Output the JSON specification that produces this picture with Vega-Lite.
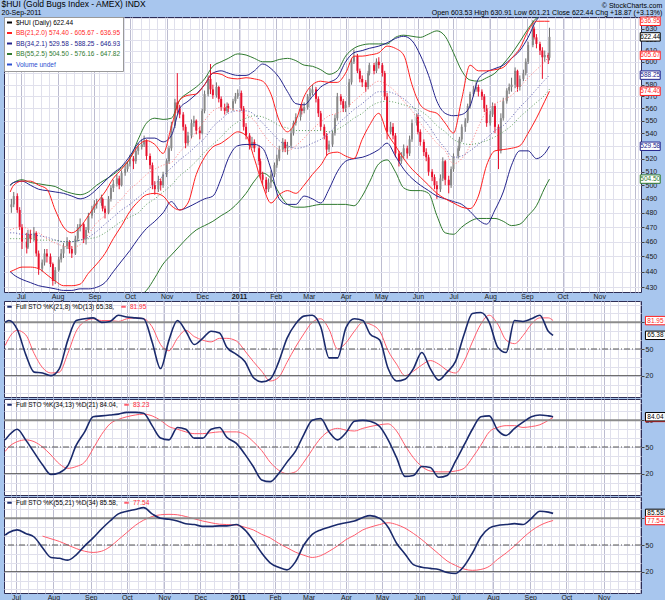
{
"$schema": "https://vega.github.io/schema/vega-lite/v6.json",
"background": "#a8c6ee",
"padding": {"left": 1, "top": 0, "right": 0, "bottom": 0},
"config": {
  "font": "Liberation Sans",
  "view": {"fill": "#ffffff", "stroke": "#2d2d55", "strokeWidth": 1},
  "title": {"fontSize": 8.5, "fontWeight": "normal", "color": "#000000", "subtitleFontSize": 7, "subtitleColor": "#000000", "font": "Liberation Sans", "subtitleFont": "Liberation Sans"}
},
"title": {"text": "$HUI (Gold Bugs Index - AMEX) INDX", "subtitle": "20-Sep-2011", "anchor": "start", "offset": -14, "dx": -1, "subtitlePadding": 0},
"datasets": {
"c": [
{"t":"2010-06-23","o":484,"h":490,"l":480,"c":486},
{"t":"2010-06-25","o":486,"h":495,"l":484,"c":492},
{"t":"2010-06-28","o":492,"h":494,"l":480,"c":482},
{"t":"2010-06-30","o":482,"h":484,"l":468,"c":470},
{"t":"2010-07-02","o":470,"h":472,"l":455,"c":460},
{"t":"2010-07-06","o":460,"h":466,"l":452,"c":456},
{"t":"2010-07-07","o":456,"h":468,"l":455,"c":465},
{"t":"2010-07-09","o":465,"h":468,"l":459,"c":462},
{"t":"2010-07-12","o":462,"h":470,"l":460,"c":466},
{"t":"2010-07-14","o":466,"h":467,"l":450,"c":452},
{"t":"2010-07-16","o":452,"h":454,"l":438,"c":442},
{"t":"2010-07-19","o":442,"h":448,"l":440,"c":446},
{"t":"2010-07-21","o":446,"h":455,"l":444,"c":452},
{"t":"2010-07-23","o":452,"h":455,"l":446,"c":450},
{"t":"2010-07-26","o":450,"h":452,"l":443,"c":445},
{"t":"2010-07-28","o":445,"h":446,"l":431,"c":434},
{"t":"2010-07-30","o":434,"h":443,"l":432,"c":441},
{"t":"2010-08-02","o":441,"h":450,"l":440,"c":448},
{"t":"2010-08-04","o":448,"h":455,"l":446,"c":452},
{"t":"2010-08-06","o":452,"h":459,"l":449,"c":457},
{"t":"2010-08-09","o":457,"h":463,"l":455,"c":460},
{"t":"2010-08-11","o":460,"h":461,"l":452,"c":455},
{"t":"2010-08-13","o":455,"h":457,"l":449,"c":452},
{"t":"2010-08-16","o":452,"h":464,"l":451,"c":462},
{"t":"2010-08-18","o":462,"h":472,"l":460,"c":470},
{"t":"2010-08-20","o":470,"h":476,"l":467,"c":472},
{"t":"2010-08-23","o":472,"h":473,"l":459,"c":462},
{"t":"2010-08-25","o":462,"h":470,"l":458,"c":468},
{"t":"2010-08-27","o":468,"h":480,"l":466,"c":478},
{"t":"2010-08-30","o":478,"h":485,"l":476,"c":482},
{"t":"2010-09-01","o":482,"h":489,"l":480,"c":486},
{"t":"2010-09-03","o":486,"h":490,"l":483,"c":487},
{"t":"2010-09-07","o":487,"h":493,"l":485,"c":490},
{"t":"2010-09-08","o":490,"h":491,"l":481,"c":483},
{"t":"2010-09-10","o":483,"h":485,"l":476,"c":480},
{"t":"2010-09-13","o":480,"h":492,"l":479,"c":490},
{"t":"2010-09-15","o":490,"h":500,"l":488,"c":498},
{"t":"2010-09-17","o":498,"h":504,"l":495,"c":501},
{"t":"2010-09-20","o":501,"h":508,"l":499,"c":505},
{"t":"2010-09-22","o":505,"h":507,"l":497,"c":500},
{"t":"2010-09-24","o":500,"h":511,"l":499,"c":509},
{"t":"2010-09-27","o":509,"h":515,"l":507,"c":512},
{"t":"2010-09-29","o":512,"h":518,"l":510,"c":516},
{"t":"2010-10-01","o":516,"h":523,"l":514,"c":520},
{"t":"2010-10-04","o":520,"h":522,"l":512,"c":518},
{"t":"2010-10-06","o":518,"h":529,"l":516,"c":526},
{"t":"2010-10-08","o":526,"h":532,"l":523,"c":529},
{"t":"2010-10-11","o":529,"h":535,"l":527,"c":531},
{"t":"2010-10-13","o":531,"h":538,"l":529,"c":534},
{"t":"2010-10-15","o":534,"h":535,"l":519,"c":522},
{"t":"2010-10-18","o":522,"h":524,"l":512,"c":515},
{"t":"2010-10-20","o":515,"h":517,"l":497,"c":500},
{"t":"2010-10-22","o":500,"h":503,"l":493,"c":497},
{"t":"2010-10-25","o":497,"h":507,"l":495,"c":503},
{"t":"2010-10-27","o":503,"h":505,"l":496,"c":500},
{"t":"2010-10-29","o":500,"h":510,"l":498,"c":508},
{"t":"2010-11-01","o":508,"h":520,"l":506,"c":518},
{"t":"2010-11-03","o":518,"h":530,"l":516,"c":528},
{"t":"2010-11-05","o":528,"h":549,"l":526,"c":546},
{"t":"2010-11-08","o":546,"h":568,"l":544,"c":565},
{"t":"2010-11-10","o":565,"h":590,"l":556,"c":560},
{"t":"2010-11-12","o":560,"h":563,"l":552,"c":555},
{"t":"2010-11-15","o":555,"h":557,"l":542,"c":545},
{"t":"2010-11-17","o":545,"h":547,"l":528,"c":532},
{"t":"2010-11-19","o":532,"h":541,"l":530,"c":538},
{"t":"2010-11-22","o":538,"h":551,"l":536,"c":548},
{"t":"2010-11-24","o":548,"h":554,"l":545,"c":550},
{"t":"2010-11-26","o":550,"h":551,"l":539,"c":542},
{"t":"2010-11-29","o":542,"h":545,"l":535,"c":540},
{"t":"2010-12-01","o":540,"h":560,"l":539,"c":558},
{"t":"2010-12-03","o":558,"h":575,"l":556,"c":572},
{"t":"2010-12-06","o":572,"h":588,"l":570,"c":585},
{"t":"2010-12-08","o":585,"h":598,"l":572,"c":576},
{"t":"2010-12-10","o":576,"h":580,"l":568,"c":571},
{"t":"2010-12-13","o":571,"h":582,"l":569,"c":578},
{"t":"2010-12-15","o":578,"h":579,"l":565,"c":568},
{"t":"2010-12-17","o":568,"h":570,"l":558,"c":561},
{"t":"2010-12-20","o":561,"h":564,"l":555,"c":558},
{"t":"2010-12-22","o":558,"h":565,"l":556,"c":562},
{"t":"2010-12-23","o":562,"h":564,"l":557,"c":560},
{"t":"2010-12-27","o":560,"h":568,"l":558,"c":566},
{"t":"2010-12-29","o":566,"h":573,"l":564,"c":570},
{"t":"2010-12-31","o":570,"h":576,"l":568,"c":573},
{"t":"2011-01-03","o":573,"h":575,"l":558,"c":560},
{"t":"2011-01-05","o":560,"h":562,"l":542,"c":545},
{"t":"2011-01-07","o":545,"h":548,"l":535,"c":538},
{"t":"2011-01-10","o":538,"h":540,"l":527,"c":530},
{"t":"2011-01-12","o":530,"h":537,"l":528,"c":533},
{"t":"2011-01-14","o":533,"h":535,"l":525,"c":528},
{"t":"2011-01-18","o":528,"h":530,"l":515,"c":518},
{"t":"2011-01-19","o":518,"h":520,"l":505,"c":508},
{"t":"2011-01-21","o":508,"h":510,"l":500,"c":504},
{"t":"2011-01-24","o":504,"h":506,"l":494,"c":497},
{"t":"2011-01-26","o":497,"h":505,"l":495,"c":502},
{"t":"2011-01-28","o":502,"h":511,"l":498,"c":508},
{"t":"2011-01-31","o":508,"h":517,"l":506,"c":515},
{"t":"2011-02-02","o":515,"h":523,"l":513,"c":520},
{"t":"2011-02-04","o":520,"h":530,"l":518,"c":527},
{"t":"2011-02-07","o":527,"h":536,"l":525,"c":533},
{"t":"2011-02-09","o":533,"h":535,"l":525,"c":528},
{"t":"2011-02-11","o":528,"h":533,"l":523,"c":530},
{"t":"2011-02-14","o":530,"h":543,"l":528,"c":540},
{"t":"2011-02-16","o":540,"h":550,"l":538,"c":548},
{"t":"2011-02-18","o":548,"h":556,"l":546,"c":553},
{"t":"2011-02-22","o":553,"h":563,"l":550,"c":560},
{"t":"2011-02-23","o":560,"h":564,"l":555,"c":558},
{"t":"2011-02-25","o":558,"h":565,"l":556,"c":561},
{"t":"2011-02-28","o":561,"h":572,"l":559,"c":570},
{"t":"2011-03-02","o":570,"h":577,"l":568,"c":573},
{"t":"2011-03-04","o":573,"h":580,"l":571,"c":576},
{"t":"2011-03-07","o":576,"h":578,"l":565,"c":568},
{"t":"2011-03-09","o":568,"h":570,"l":553,"c":556},
{"t":"2011-03-11","o":556,"h":558,"l":542,"c":545},
{"t":"2011-03-14","o":545,"h":547,"l":535,"c":538},
{"t":"2011-03-16","o":538,"h":540,"l":522,"c":527},
{"t":"2011-03-18","o":527,"h":534,"l":525,"c":531},
{"t":"2011-03-21","o":531,"h":542,"l":529,"c":540},
{"t":"2011-03-23","o":540,"h":555,"l":538,"c":552},
{"t":"2011-03-25","o":552,"h":573,"l":550,"c":570},
{"t":"2011-03-28","o":570,"h":572,"l":563,"c":566},
{"t":"2011-03-30","o":566,"h":568,"l":557,"c":560},
{"t":"2011-04-01","o":560,"h":566,"l":557,"c":563},
{"t":"2011-04-04","o":563,"h":585,"l":561,"c":582},
{"t":"2011-04-06","o":582,"h":603,"l":580,"c":600},
{"t":"2011-04-08","o":600,"h":611,"l":598,"c":605},
{"t":"2011-04-11","o":605,"h":607,"l":590,"c":592},
{"t":"2011-04-13","o":592,"h":594,"l":582,"c":585},
{"t":"2011-04-15","o":585,"h":588,"l":578,"c":582},
{"t":"2011-04-18","o":582,"h":584,"l":574,"c":578},
{"t":"2011-04-20","o":578,"h":592,"l":576,"c":590},
{"t":"2011-04-21","o":590,"h":599,"l":588,"c":597},
{"t":"2011-04-25","o":597,"h":599,"l":589,"c":592},
{"t":"2011-04-27","o":592,"h":603,"l":590,"c":600},
{"t":"2011-04-29","o":600,"h":604,"l":594,"c":597},
{"t":"2011-05-02","o":597,"h":599,"l":587,"c":590},
{"t":"2011-05-04","o":590,"h":592,"l":567,"c":570},
{"t":"2011-05-06","o":570,"h":573,"l":535,"c":541},
{"t":"2011-05-09","o":541,"h":549,"l":539,"c":545},
{"t":"2011-05-11","o":545,"h":548,"l":535,"c":538},
{"t":"2011-05-13","o":538,"h":540,"l":521,"c":524},
{"t":"2011-05-16","o":524,"h":526,"l":514,"c":518},
{"t":"2011-05-18","o":518,"h":525,"l":516,"c":522},
{"t":"2011-05-20","o":522,"h":531,"l":520,"c":528},
{"t":"2011-05-23","o":528,"h":530,"l":520,"c":524},
{"t":"2011-05-25","o":524,"h":538,"l":522,"c":535},
{"t":"2011-05-27","o":535,"h":551,"l":533,"c":548},
{"t":"2011-05-31","o":548,"h":556,"l":546,"c":553},
{"t":"2011-06-01","o":553,"h":555,"l":539,"c":541},
{"t":"2011-06-03","o":541,"h":543,"l":530,"c":533},
{"t":"2011-06-06","o":533,"h":535,"l":522,"c":525},
{"t":"2011-06-08","o":525,"h":528,"l":518,"c":521},
{"t":"2011-06-10","o":521,"h":523,"l":507,"c":510},
{"t":"2011-06-13","o":510,"h":512,"l":503,"c":506},
{"t":"2011-06-15","o":506,"h":508,"l":497,"c":500},
{"t":"2011-06-17","o":500,"h":503,"l":490,"c":497},
{"t":"2011-06-20","o":497,"h":508,"l":495,"c":505},
{"t":"2011-06-22","o":505,"h":521,"l":503,"c":518},
{"t":"2011-06-24","o":518,"h":519,"l":500,"c":504},
{"t":"2011-06-27","o":504,"h":507,"l":494,"c":500},
{"t":"2011-06-29","o":500,"h":514,"l":498,"c":512},
{"t":"2011-07-01","o":512,"h":524,"l":510,"c":522},
{"t":"2011-07-05","o":522,"h":530,"l":520,"c":528},
{"t":"2011-07-06","o":528,"h":537,"l":526,"c":535},
{"t":"2011-07-08","o":535,"h":547,"l":533,"c":545},
{"t":"2011-07-11","o":545,"h":552,"l":541,"c":550},
{"t":"2011-07-13","o":550,"h":564,"l":548,"c":562},
{"t":"2011-07-15","o":562,"h":574,"l":560,"c":572},
{"t":"2011-07-18","o":572,"h":579,"l":570,"c":576},
{"t":"2011-07-20","o":576,"h":582,"l":574,"c":578},
{"t":"2011-07-22","o":578,"h":580,"l":570,"c":574},
{"t":"2011-07-25","o":574,"h":576,"l":567,"c":570},
{"t":"2011-07-27","o":570,"h":572,"l":557,"c":560},
{"t":"2011-07-29","o":560,"h":563,"l":545,"c":548},
{"t":"2011-08-01","o":548,"h":558,"l":546,"c":555},
{"t":"2011-08-03","o":555,"h":565,"l":553,"c":562},
{"t":"2011-08-05","o":562,"h":564,"l":540,"c":545},
{"t":"2011-08-08","o":545,"h":547,"l":512,"c":526},
{"t":"2011-08-10","o":526,"h":556,"l":524,"c":552},
{"t":"2011-08-12","o":552,"h":569,"l":550,"c":566},
{"t":"2011-08-15","o":566,"h":577,"l":564,"c":575},
{"t":"2011-08-17","o":575,"h":581,"l":572,"c":578},
{"t":"2011-08-19","o":578,"h":586,"l":574,"c":580},
{"t":"2011-08-22","o":580,"h":595,"l":577,"c":592},
{"t":"2011-08-24","o":592,"h":593,"l":574,"c":578},
{"t":"2011-08-26","o":578,"h":588,"l":575,"c":585},
{"t":"2011-08-29","o":585,"h":593,"l":583,"c":590},
{"t":"2011-08-31","o":590,"h":603,"l":588,"c":600},
{"t":"2011-09-02","o":600,"h":618,"l":598,"c":615},
{"t":"2011-09-06","o":615,"h":638,"l":613,"c":630},
{"t":"2011-09-07","o":630,"h":632,"l":620,"c":622},
{"t":"2011-09-09","o":622,"h":625,"l":612,"c":616},
{"t":"2011-09-12","o":616,"h":618,"l":606,"c":610},
{"t":"2011-09-14","o":610,"h":613,"l":585,"c":604},
{"t":"2011-09-16","o":604,"h":610,"l":600,"c":606},
{"t":"2011-09-19","o":606,"h":608,"l":598,"c":603.57},
{"t":"2011-09-20","o":603.53,"h":630.91,"l":601.21,"c":622.44}
],
"w": [
{"d":"2010-06-22","ru":495,"rm":468,"rl":440,"bu":500,"bm":466,"bl":440,"gu":500,"gm":462,"gl":420,"k1":80,"d1":54,"k2":58,"d2":45,"k3":61},
{"d":"2010-06-25","ru":500,"rm":469,"rl":441,"bu":502,"bm":466,"bl":438,"gu":502,"gm":462,"gl":420,"k1":82,"d1":62,"k2":63,"d2":50,"k3":64},
{"d":"2010-07-02","ru":503,"rm":470,"rl":443,"bu":503,"bm":465,"bl":435,"gu":504,"gm":462,"gl":420,"k1":72,"d1":71,"k2":70,"d2":56,"k3":67},
{"d":"2010-07-09","ru":503,"rm":468,"rl":443,"bu":500,"bm":465,"bl":433,"gu":502,"gm":462,"gl":419,"k1":44,"d1":66,"k2":58,"d2":58,"k3":63},
{"d":"2010-07-16","ru":500,"rm":466,"rl":442,"bu":497,"bm":464,"bl":431,"gu":501,"gm":461,"gl":418,"k1":24,"d1":45,"k2":44,"d2":56,"k3":59},
{"d":"2010-07-23","ru":497,"rm":462,"rl":438,"bu":496,"bm":463,"bl":430,"gu":500,"gm":461,"gl":417,"k1":23,"d1":29,"k2":30,"d2":50,"k3":47,"d3":60},
{"d":"2010-07-30","ru":482,"rm":459,"rl":434,"bu":495,"bm":461,"bl":429,"gu":499,"gm":461,"gl":416,"k1":20,"d1":23,"k2":19,"d2":41,"k3":36,"d3":57},
{"d":"2010-08-06","ru":470,"rm":457,"rl":431,"bu":494,"bm":460,"bl":428,"gu":496,"gm":460,"gl":416,"k1":28,"d1":24,"k2":21,"d2":31,"k3":35,"d3":54},
{"d":"2010-08-13","ru":466,"rm":456,"rl":431,"bu":492,"bm":460,"bl":428,"gu":494,"gm":460,"gl":415,"k1":60,"d1":45,"k2":29,"d2":26,"k3":33,"d3":50},
{"d":"2010-08-20","ru":470,"rm":458,"rl":432,"bu":490,"bm":461,"bl":429,"gu":493,"gm":461,"gl":414,"k1":82,"d1":70,"k2":52,"d2":28,"k3":39,"d3":46},
{"d":"2010-08-27","ru":478,"rm":465,"rl":439,"bu":492,"bm":463,"bl":429,"gu":495,"gm":462,"gl":414,"k1":84,"d1":81,"k2":67,"d2":33,"k3":49,"d3":43},
{"d":"2010-09-03","ru":487,"rm":473,"rl":445,"bu":497,"bm":467,"bl":430,"gu":500,"gm":463,"gl":414,"k1":85,"d1":84,"k2":84,"d2":48,"k3":58,"d3":41.6},
{"d":"2010-09-10","ru":495,"rm":478,"rl":452,"bu":503,"bm":472,"bl":433,"gu":504,"gm":466,"gl":415,"k1":80,"d1":82,"k2":85,"d2":64,"k3":68,"d3":43},
{"d":"2010-09-17","ru":505,"rm":484,"rl":462,"bu":509,"bm":477,"bl":440,"gu":508,"gm":470,"gl":416,"k1":81,"d1":82,"k2":86,"d2":76,"k3":77,"d3":48},
{"d":"2010-09-24","ru":512,"rm":490,"rl":471,"bu":514,"bm":482,"bl":447,"gu":513,"gm":474,"gl":418,"k1":88,"d1":81,"k2":87,"d2":81,"k3":85,"d3":56},
{"d":"2010-10-01","ru":520,"rm":497,"rl":481,"bu":522,"bm":486,"bl":454,"gu":520,"gm":477,"gl":420,"k1":86,"d1":84,"k2":89,"d2":84,"k3":88,"d3":64},
{"d":"2010-10-08","ru":530,"rm":502,"rl":488,"bu":532,"bm":491,"bl":462,"gu":535,"gm":480,"gl":424,"k1":85,"d1":85,"k2":89,"d2":86,"k3":90,"d3":72},
{"d":"2010-10-15","ru":534,"rm":508,"rl":493,"bu":536,"bm":496,"bl":469,"gu":548,"gm":486,"gl":428,"k1":84,"d1":84,"k2":88,"d2":87,"k3":92,"d3":78},
{"d":"2010-10-22","ru":531,"rm":512,"rl":494,"bu":536,"bm":501,"bl":474,"gu":552,"gm":490,"gl":436,"k1":58,"d1":75,"k2":74,"d2":85,"k3":85,"d3":82},
{"d":"2010-10-29","ru":524,"rm":515,"rl":492,"bu":533,"bm":507,"bl":480,"gu":551,"gm":495,"gl":445,"k1":28,"d1":55,"k2":60,"d2":80,"k3":80,"d3":84},
{"d":"2010-11-05","ru":545,"rm":517,"rl":485,"bu":538,"bm":513,"bl":488,"gu":552,"gm":500,"gl":451,"k1":60,"d1":48,"k2":58,"d2":73,"k3":79,"d3":84.5},
{"d":"2010-11-12","ru":567,"rm":525,"rl":482,"bu":560,"bm":519,"bl":482,"gu":567,"gm":507,"gl":457,"k1":82,"d1":62,"k2":72,"d2":70,"k3":77,"d3":84},
{"d":"2010-11-19","ru":571,"rm":532,"rl":487,"bu":566,"bm":524,"bl":484,"gu":573,"gm":512,"gl":463,"k1":70,"d1":71,"k2":70,"d2":67,"k3":74,"d3":82},
{"d":"2010-11-26","ru":572,"rm":541,"rl":508,"bu":572,"bm":530,"bl":487,"gu":578,"gm":518,"gl":468,"k1":55,"d1":64,"k2":60,"d2":65,"k3":73,"d3":79.5},
{"d":"2010-12-03","ru":580,"rm":550,"rl":521,"bu":580,"bm":536,"bl":490,"gu":585,"gm":525,"gl":471,"k1":62,"d1":60,"k2":60,"d2":65,"k3":71,"d3":77},
{"d":"2010-12-10","ru":590,"rm":558,"rl":529,"bu":590,"bm":545,"bl":492,"gu":596,"gm":531,"gl":474,"k1":70,"d1":58,"k2":70,"d2":66,"k3":71,"d3":75},
{"d":"2010-12-17","ru":589,"rm":561,"rl":532,"bu":592,"bm":551,"bl":505,"gu":600,"gm":537,"gl":478,"k1":68,"d1":62,"k2":72,"d2":67,"k3":71.5,"d3":73.4},
{"d":"2010-12-23","ru":586,"rm":560,"rl":536,"bu":590,"bm":556,"bl":520,"gu":603,"gm":543,"gl":481,"k1":52,"d1":62,"k2":61,"d2":67,"k3":71.5,"d3":73},
{"d":"2010-12-31","ru":585,"rm":558,"rl":541,"bu":588,"bm":558,"bl":530,"gu":607,"gm":549,"gl":487,"k1":44,"d1":59,"k2":54,"d2":67,"k3":73,"d3":72.5},
{"d":"2011-01-07","ru":586,"rm":555,"rl":538,"bu":588,"bm":558,"bl":531,"gu":606,"gm":552,"gl":494,"k1":36,"d1":48,"k2":42,"d2":64,"k3":67,"d3":70},
{"d":"2011-01-14","ru":585,"rm":550,"rl":520,"bu":592,"bm":555,"bl":531,"gu":603,"gm":554,"gl":503,"k1":18,"d1":36,"k2":28,"d2":56,"k3":55,"d3":67},
{"d":"2011-01-21","ru":583,"rm":540,"rl":500,"bu":598,"bm":548,"bl":528,"gu":600,"gm":553,"gl":509,"k1":13,"d1":25,"k2":13,"d2":46,"k3":41,"d3":62},
{"d":"2011-01-28","ru":572,"rm":532,"rl":487,"bu":594,"bm":541,"bl":512,"gu":600,"gm":550,"gl":505,"k1":16,"d1":14,"k2":11,"d2":33,"k3":30,"d3":58},
{"d":"2011-02-04","ru":550,"rm":527,"rl":493,"bu":586,"bm":534,"bl":490,"gu":602,"gm":546,"gl":494,"k1":35,"d1":18,"k2":20,"d2":24,"k3":25,"d3":52},
{"d":"2011-02-11","ru":541,"rm":526,"rl":496,"bu":574,"bm":530,"bl":486,"gu":603,"gm":544,"gl":486,"k1":62,"d1":35,"k2":33,"d2":20,"k3":22,"d3":47},
{"d":"2011-02-18","ru":550,"rm":530,"rl":494,"bu":564,"bm":528,"bl":486,"gu":601,"gm":542,"gl":484,"k1":78,"d1":52,"k2":45,"d2":22,"k3":31,"d3":42},
{"d":"2011-02-25","ru":570,"rm":536,"rl":500,"bu":563,"bm":529,"bl":492,"gu":597,"gm":542,"gl":484,"k1":87,"d1":67,"k2":64,"d2":33,"k3":50,"d3":38.5},
{"d":"2011-03-04","ru":580,"rm":543,"rl":508,"bu":570,"bm":532,"bl":490,"gu":596,"gm":542,"gl":485,"k1":88,"d1":80,"k2":80,"d2":47,"k3":62,"d3":36},
{"d":"2011-03-11","ru":583,"rm":549,"rl":515,"bu":578,"bm":535,"bl":487,"gu":593,"gm":542,"gl":486,"k1":75,"d1":84,"k2":82,"d2":60,"k3":67,"d3":38},
{"d":"2011-03-18","ru":582,"rm":554,"rl":524,"bu":582,"bm":540,"bl":497,"gu":589,"gm":541,"gl":486,"k1":40,"d1":72,"k2":67,"d2":68,"k3":70,"d3":43},
{"d":"2011-03-25","ru":582,"rm":556,"rl":525,"bu":586,"bm":547,"bl":510,"gu":592,"gm":543,"gl":486,"k1":40,"d1":50,"k2":58,"d2":71,"k3":73,"d3":49},
{"d":"2011-04-01","ru":590,"rm":560,"rl":522,"bu":600,"bm":553,"bl":518,"gu":605,"gm":547,"gl":486,"k1":74,"d1":57,"k2":66,"d2":69,"k3":75,"d3":56},
{"d":"2011-04-08","ru":605,"rm":566,"rl":520,"bu":608,"bm":559,"bl":520,"gu":612,"gm":552,"gl":485,"k1":84,"d1":70,"k2":79,"d2":68,"k3":77,"d3":61},
{"d":"2011-04-15","ru":605,"rm":572,"rl":535,"bu":610,"bm":564,"bl":521,"gu":615,"gm":556,"gl":492,"k1":82,"d1":80,"k2":80,"d2":71,"k3":81,"d3":67},
{"d":"2011-04-21","ru":606,"rm":578,"rl":546,"bu":612,"bm":569,"bl":523,"gu":616,"gm":561,"gl":502,"k1":67,"d1":78,"k2":79,"d2":73,"k3":83,"d3":70},
{"d":"2011-04-29","ru":608,"rm":583,"rl":556,"bu":614,"bm":574,"bl":527,"gu":616,"gm":565,"gl":516,"k1":60,"d1":70,"k2":73,"d2":75,"k3":80,"d3":73},
{"d":"2011-05-06","ru":614,"rm":580,"rl":540,"bu":617,"bm":574,"bl":532,"gu":616,"gm":566,"gl":519,"k1":28,"d1":48,"k2":58,"d2":76,"k3":70,"d3":75},
{"d":"2011-05-13","ru":612,"rm":574,"rl":530,"bu":621,"bm":572,"bl":522,"gu":622,"gm":565,"gl":510,"k1":14,"d1":33,"k2":38,"d2":68,"k3":52,"d3":73},
{"d":"2011-05-20","ru":606,"rm":566,"rl":520,"bu":623,"bm":568,"bl":512,"gu":624,"gm":563,"gl":498,"k1":16,"d1":20,"k2":17,"d2":52,"k3":40,"d3":69},
{"d":"2011-05-27","ru":580,"rm":558,"rl":512,"bu":619,"bm":562,"bl":505,"gu":623,"gm":561,"gl":496,"k1":28,"d1":25,"k2":18,"d2":38,"k3":28,"d3":63},
{"d":"2011-06-03","ru":563,"rm":548,"rl":506,"bu":606,"bm":554,"bl":500,"gu":622,"gm":558,"gl":496,"k1":46,"d1":32,"k2":28,"d2":28,"k3":25,"d3":56},
{"d":"2011-06-10","ru":558,"rm":540,"rl":500,"bu":588,"bm":546,"bl":496,"gu":625,"gm":553,"gl":494,"k1":28,"d1":37,"k2":27,"d2":23,"k3":23.7,"d3":48},
{"d":"2011-06-17","ru":556,"rm":532,"rl":494,"bu":566,"bm":536,"bl":492,"gu":628,"gm":546,"gl":478,"k1":15,"d1":33,"k2":16,"d2":22,"k3":22.5,"d3":40},
{"d":"2011-06-24","ru":548,"rm":526,"rl":490,"bu":556,"bm":528,"bl":490,"gu":623,"gm":541,"gl":466,"k1":24,"d1":26,"k2":18,"d2":22,"k3":19,"d3":32},
{"d":"2011-07-01","ru":540,"rm":516,"rl":487,"bu":554,"bm":521,"bl":488,"gu":608,"gm":535,"gl":465,"k1":36,"d1":23,"k2":34,"d2":23,"k3":18,"d3":27},
{"d":"2011-07-08","ru":568,"rm":520,"rl":484,"bu":555,"bm":522,"bl":486,"gu":592,"gm":532,"gl":470,"k1":66,"d1":36,"k2":52,"d2":26,"k3":26,"d3":23},
{"d":"2011-07-15","ru":597,"rm":530,"rl":483,"bu":562,"bm":526,"bl":481,"gu":584,"gm":531,"gl":474,"k1":90,"d1":58,"k2":70,"d2":38,"k3":41,"d3":21.5},
{"d":"2011-07-22","ru":592,"rm":545,"rl":492,"bu":585,"bm":531,"bl":475,"gu":583,"gm":532,"gl":476,"k1":91,"d1":78,"k2":84,"d2":52,"k3":59,"d3":22.5},
{"d":"2011-07-29","ru":592,"rm":558,"rl":515,"bu":591,"bm":536,"bl":472,"gu":586,"gm":534,"gl":476,"k1":80,"d1":88,"k2":85,"d2":67,"k3":69,"d3":26},
{"d":"2011-08-05","ru":593,"rm":564,"rl":526,"bu":594,"bm":542,"bl":482,"gu":590,"gm":537,"gl":476,"k1":52,"d1":78,"k2":69,"d2":72,"k3":72,"d3":34},
{"d":"2011-08-12","ru":595,"rm":567,"rl":527,"bu":597,"bm":546,"bl":495,"gu":598,"gm":541,"gl":474,"k1":46,"d1":60,"k2":63,"d2":74,"k3":73,"d3":41},
{"d":"2011-08-19","ru":603,"rm":571,"rl":528,"bu":603,"bm":553,"bl":515,"gu":607,"gm":546,"gl":471,"k1":82,"d1":56,"k2":71,"d2":74,"k3":74,"d3":49},
{"d":"2011-08-26","ru":612,"rm":578,"rl":530,"bu":610,"bm":561,"bl":526,"gu":618,"gm":553,"gl":472,"k1":81,"d1":65,"k2":78,"d2":72,"k3":73,"d3":58},
{"d":"2011-09-02","ru":628,"rm":586,"rl":540,"bu":622,"bm":568,"bl":526,"gu":630,"gm":559,"gl":478,"k1":84,"d1":78,"k2":84,"d2":73,"k3":80,"d3":66},
{"d":"2011-09-09","ru":637,"rm":593,"rl":552,"bu":638,"bm":576,"bl":520,"gu":640,"gm":565,"gl":485,"k1":88,"d1":85,"k2":86,"d2":75,"k3":88,"d3":72},
{"d":"2011-09-16","ru":637,"rm":600,"rl":566,"bu":645,"bm":584,"bl":524,"gu":645,"gm":571,"gl":498,"k1":70,"d1":85,"k2":85,"d2":80,"k3":87,"d3":76},
{"d":"2011-09-20","ru":636.95,"rm":605.67,"rl":574.4,"bu":646.93,"bm":588.25,"bl":529.58,"gu":647.82,"gm":576.16,"gl":504.5,"k1":65.38,"d1":81.95,"k2":84.04,"d2":83.23,"k3":85.58,"d3":77.54}
]
},
"spacing": 0,
"resolve": {"scale": {"color": "independent", "y": "independent"}, "legend": {"color": "independent"}},
"vconcat": [
{
  "width": 637, "height": 275,
  "title": {"text": ["© StockCharts.com", "Open 603.53  High 630.91  Low 601.21  Close 622.44  Chg +18.87 (+3.13%)"], "anchor": "end", "fontSize": 7, "lineHeight": 7, "offset": -2},
  "data": {"name": "w"},
  "resolve": {"axis": {"x": "independent", "y": "independent"}},
  "layer": [
    {"data": {"values": [{"s": "$HUI (Daily) 622.44"}, {"s": "BB(21,2.0) 574.40 - 605.67 - 636.95"}, {"s": "BB(34,2.1) 529.58 - 588.25 - 646.93"}, {"s": "BB(55,2.5) 504.50 - 576.16 - 647.82"}, {"s": "Volume undef"}]},
     "mark": {"type": "point", "opacity": 0},
     "encoding": {"color": {"field": "s", "type": "nominal",
       "scale": {"domain": ["$HUI (Daily) 622.44", "BB(21,2.0) 574.40 - 605.67 - 636.95", "BB(34,2.1) 529.58 - 588.25 - 646.93", "BB(55,2.5) 504.50 - 576.16 - 647.82", "Volume undef"], "range": ["#000000", "#ff1f1f", "#23238c", "#2f7a2f", "#2a4fd0"]},
       "legend": {"orient": "top-left", "offset": 0, "title": null, "fillColor": "#ffffff", "strokeColor": "#9a9a9a", "padding": 2, "rowPadding": 1.5, "labelFontSize": 6.5, "labelOffset": 3, "labelLimit": 400, "symbolType": "stroke", "symbolStrokeWidth": 2, "symbolSize": 25, "symbolOpacity": 1,
         "labelColor": {"expr": "indexof(datum.label, 'BB(21') == 0 ? '#ff1f1f' : indexof(datum.label, 'BB(34') == 0 ? '#23238c' : indexof(datum.label, 'BB(55') == 0 ? '#2f7a2f' : indexof(datum.label, 'Volume') == 0 ? '#2a4fd0' : '#000000'"}}}}},
    {"mark": {"type": "line", "color": "#2f7a2f", "strokeWidth": 1, "interpolate": "monotone", "clip": true},
     "encoding": {
       "x": {"field": "d", "type": "temporal", "scale": {"domain": [{"year": 2010, "month": 6, "date": 21}, {"year": 2011, "month": 12, "date": 2}]},
             "axis": {"orient": "top", "tickCount": {"interval": "week", "step": 1}, "labels": false, "ticks": false, "domain": false, "grid": true, "gridColor": "#e0e0ec", "title": null}},
       "y": {"field": "gl", "type": "quantitative", "scale": {"type": "log", "domain": [427, 641], "nice": false},
             "axis": {"orient": "left", "values": [430,440,450,460,470,480,490,500,510,520,530,540,550,560,570,580,590,600,610,620,630,640], "labels": false, "ticks": false, "domain": false, "grid": true, "gridColor": "#e0e0ec", "title": null}}}},
    {"data": {"name": "c"},
     "mark": {"type": "rule", "strokeWidth": 1, "clip": true},
     "encoding": {
       "x": {"field": "t", "type": "temporal", "scale": {"domain": [{"year": 2010, "month": 6, "date": 21}, {"year": 2011, "month": 12, "date": 2}]},
             "axis": {"orient": "bottom", "tickCount": {"interval": "month", "step": 1}, "labelExpr": "month(datum.value) == 0 ? timeFormat(datum.value, '%Y') : (month(datum.value) == 11 && year(datum.value) == 2011 ? '' : timeFormat(datum.value, '%b'))", "labelFontWeight": {"condition": {"test": "month(datum.value) == 0", "value": "bold"}, "value": "normal"}, "labelFontSize": 7, "labelColor": "#1a1a1a", "labelPadding": 0, "labelFlush": false, "labelOverlap": false, "ticks": false, "domain": false, "grid": true, "gridColor": "#bcbcd0", "title": null}},
       "y": {"field": "l", "type": "quantitative", "scale": {"type": "log", "domain": [427, 641], "nice": false},
             "axis": {"orient": "right", "zindex": 0, "values": [430,440,450,460,470,480,490,500,510,520,530,540,550,560,570,580,590,600,610,620,630,640], "format": "d", "labelFontSize": 7, "labelColor": "#1a1a1a", "tickSize": 3, "tickColor": "#444444", "labelPadding": 1, "labelOverlap": false, "domain": false, "grid": false, "title": null}},
       "y2": {"field": "h"},
       "color": {"condition": {"test": "datum.c < datum.o", "value": "#e8112d"}, "value": "#6e6e6e"}}},
    {"data": {"name": "c"},
     "mark": {"type": "bar", "size": 2, "clip": true},
     "encoding": {
       "x": {"field": "t", "type": "temporal", "scale": {"domain": [{"year": 2010, "month": 6, "date": 21}, {"year": 2011, "month": 12, "date": 2}]}, "axis": null},
       "y": {"field": "o", "type": "quantitative", "scale": {"type": "log", "domain": [427, 641], "nice": false}, "axis": null},
       "y2": {"field": "c"},
       "color": {"condition": {"test": "datum.c < datum.o", "value": "#e8112d"}, "value": "#8a8a8a"}}},
    {"mark": {"type": "line", "color": "#5e9e5e", "strokeWidth": 1, "strokeDash": [1, 2], "interpolate": "monotone", "clip": true},
     "encoding": {"x": {"field": "d", "type": "temporal", "scale": {"domain": [{"year": 2010, "month": 6, "date": 21}, {"year": 2011, "month": 12, "date": 2}]}, "axis": null},
       "y": {"field": "gm", "type": "quantitative", "scale": {"type": "log", "domain": [427, 641], "nice": false}, "axis": null}}},
    {"mark": {"type": "line", "color": "#2f7a2f", "strokeWidth": 1, "interpolate": "monotone", "clip": true},
     "encoding": {"x": {"field": "d", "type": "temporal", "scale": {"domain": [{"year": 2010, "month": 6, "date": 21}, {"year": 2011, "month": 12, "date": 2}]}, "axis": null},
       "y": {"field": "gu", "type": "quantitative", "scale": {"type": "log", "domain": [427, 641], "nice": false}, "axis": null}}},
    {"mark": {"type": "line", "color": "#5a5ab0", "strokeWidth": 1, "strokeDash": [1, 2], "interpolate": "monotone", "clip": true},
     "encoding": {"x": {"field": "d", "type": "temporal", "scale": {"domain": [{"year": 2010, "month": 6, "date": 21}, {"year": 2011, "month": 12, "date": 2}]}, "axis": null},
       "y": {"field": "bm", "type": "quantitative", "scale": {"type": "log", "domain": [427, 641], "nice": false}, "axis": null}}},
    {"mark": {"type": "line", "color": "#23238c", "strokeWidth": 1, "interpolate": "monotone", "clip": true},
     "encoding": {"x": {"field": "d", "type": "temporal", "scale": {"domain": [{"year": 2010, "month": 6, "date": 21}, {"year": 2011, "month": 12, "date": 2}]}, "axis": null},
       "y": {"field": "bu", "type": "quantitative", "scale": {"type": "log", "domain": [427, 641], "nice": false}, "axis": null}}},
    {"mark": {"type": "line", "color": "#23238c", "strokeWidth": 1, "interpolate": "monotone", "clip": true},
     "encoding": {"x": {"field": "d", "type": "temporal", "scale": {"domain": [{"year": 2010, "month": 6, "date": 21}, {"year": 2011, "month": 12, "date": 2}]}, "axis": null},
       "y": {"field": "bl", "type": "quantitative", "scale": {"type": "log", "domain": [427, 641], "nice": false}, "axis": null}}},
    {"mark": {"type": "line", "color": "#ff7a7a", "strokeWidth": 1, "strokeDash": [1, 2], "interpolate": "monotone", "clip": true},
     "encoding": {"x": {"field": "d", "type": "temporal", "scale": {"domain": [{"year": 2010, "month": 6, "date": 21}, {"year": 2011, "month": 12, "date": 2}]}, "axis": null},
       "y": {"field": "rm", "type": "quantitative", "scale": {"type": "log", "domain": [427, 641], "nice": false}, "axis": null}}},
    {"mark": {"type": "line", "color": "#ff1f1f", "strokeWidth": 1, "interpolate": "monotone", "clip": true},
     "encoding": {"x": {"field": "d", "type": "temporal", "scale": {"domain": [{"year": 2010, "month": 6, "date": 21}, {"year": 2011, "month": 12, "date": 2}]}, "axis": null},
       "y": {"field": "ru", "type": "quantitative", "scale": {"type": "log", "domain": [427, 641], "nice": false}, "axis": null}}},
    {"mark": {"type": "line", "color": "#ff1f1f", "strokeWidth": 1, "interpolate": "monotone", "clip": true},
     "encoding": {"x": {"field": "d", "type": "temporal", "scale": {"domain": [{"year": 2010, "month": 6, "date": 21}, {"year": 2011, "month": 12, "date": 2}]}, "axis": null},
       "y": {"field": "rl", "type": "quantitative", "scale": {"type": "log", "domain": [427, 641], "nice": false}, "axis": null}}},
    {"data": {"values": [{"v": 636.95, "s": "r"}, {"v": 622.44, "s": "k"}, {"v": 605.67, "s": "r"}, {"v": 588.25, "s": "b"}, {"v": 574.40, "s": "r"}, {"v": 529.58, "s": "b"}, {"v": 504.50, "s": "g"}]},
     "mark": {"type": "point", "shape": "M-1,-0.42L1,-0.42L1,0.42L-1,0.42Z", "size": 400, "filled": true, "fill": "#ffffff", "strokeWidth": 1, "opacity": 1},
     "encoding": {"x": {"datum": {"year": 2011, "month": 12, "date": 14}, "type": "temporal", "scale": {"domain": [{"year": 2010, "month": 6, "date": 21}, {"year": 2011, "month": 12, "date": 2}]}, "axis": null},
       "y": {"field": "v", "type": "quantitative", "scale": {"type": "log", "domain": [427, 641], "nice": false}, "axis": null},
       "stroke": {"condition": [{"test": "datum.s == 'r'", "value": "#ff1f1f"}, {"test": "datum.s == 'b'", "value": "#23238c"}, {"test": "datum.s == 'g'", "value": "#2f7a2f"}], "value": "#000000"}}},
    {"data": {"values": [{"v": 636.95, "s": "r"}, {"v": 622.44, "s": "k"}, {"v": 605.67, "s": "r"}, {"v": 588.25, "s": "b"}, {"v": 574.40, "s": "r"}, {"v": 529.58, "s": "b"}, {"v": 504.50, "s": "g"}]},
     "mark": {"type": "text", "fontSize": 6.5, "align": "center", "baseline": "middle"},
     "encoding": {"x": {"datum": {"year": 2011, "month": 12, "date": 14}, "type": "temporal", "scale": {"domain": [{"year": 2010, "month": 6, "date": 21}, {"year": 2011, "month": 12, "date": 2}]}, "axis": null},
       "y": {"field": "v", "type": "quantitative", "scale": {"type": "log", "domain": [427, 641], "nice": false}, "axis": null},
       "text": {"field": "v", "type": "quantitative", "format": ".2f"},
       "color": {"condition": [{"test": "datum.s == 'r'", "value": "#ff1f1f"}, {"test": "datum.s == 'b'", "value": "#23238c"}, {"test": "datum.s == 'g'", "value": "#2f7a2f"}], "value": "#000000"}}}
  ]
},
{
  "width": 637, "height": 96,
  "data": {"name": "w"},
  "resolve": {"axis": {"x": "independent", "y": "independent"}},
  "layer": [
    {"data": {"values": [{"s": "Full STO %K(21,8) %D(13) 65.38,"}, {"s": "81.95"}]},
     "mark": {"type": "point", "opacity": 0},
     "encoding": {"color": {"field": "s", "type": "nominal", "scale": {"domain": ["Full STO %K(21,8) %D(13) 65.38,", "81.95"], "range": ["#1a2a6c", "#ff5c6c"]},
       "legend": {"orient": "top-left", "direction": "horizontal", "offset": 1, "title": null, "padding": 1, "columnPadding": 2, "labelFontSize": 6.5, "labelOffset": 3, "labelLimit": 300, "symbolType": "stroke", "symbolStrokeWidth": 2, "symbolSize": 20, "symbolOpacity": 1, "labelColor": {"expr": "datum.index == 0 ? '#000000' : '#ff2a3a'"}}}}},
    {"mark": {"type": "line", "color": "#ff5c6c", "strokeWidth": 1, "interpolate": "monotone", "clip": true},
     "encoding": {
       "x": {"field": "d", "type": "temporal", "scale": {"domain": [{"year": 2010, "month": 6, "date": 21}, {"year": 2011, "month": 12, "date": 2}]},
             "axis": {"orient": "top", "tickCount": {"interval": "week", "step": 1}, "labels": false, "ticks": false, "domain": false, "grid": true, "gridColor": "#e0e0ec", "title": null}},
       "y": {"field": "d1", "type": "quantitative", "scale": {"domain": [-4, 104], "nice": false, "zero": false},
             "axis": {"orient": "left", "values": [0,10,20,30,40,50,60,70,80,90,100], "labels": false, "ticks": false, "domain": false, "grid": true, "gridColor": "#e0e0ec", "title": null}}}},
    {"data": {"values": [{}]}, "mark": {"type": "rule", "color": "#8c8c8c", "strokeWidth": 2},
     "encoding": {"y": {"datum": 80, "type": "quantitative", "scale": {"domain": [-4, 104], "nice": false, "zero": false}, "axis": null}}},
    {"data": {"values": [{}]}, "mark": {"type": "rule", "color": "#555555", "strokeWidth": 1},
     "encoding": {"y": {"datum": 20, "type": "quantitative", "scale": {"domain": [-4, 104], "nice": false, "zero": false}, "axis": null}}},
    {"data": {"values": [{}]}, "mark": {"type": "rule", "color": "#555555", "strokeWidth": 1, "strokeDash": [6, 2, 1, 2]},
     "encoding": {"y": {"datum": 50, "type": "quantitative", "scale": {"domain": [-4, 104], "nice": false, "zero": false}, "axis": null}}},
    {"mark": {"type": "line", "color": "#1a2a6c", "strokeWidth": 1.6, "interpolate": "monotone", "clip": true},
     "encoding": {
       "x": {"field": "d", "type": "temporal", "scale": {"domain": [{"year": 2010, "month": 6, "date": 21}, {"year": 2011, "month": 12, "date": 2}]},
             "axis": {"orient": "bottom", "tickCount": {"interval": "month", "step": 1}, "labels": false, "ticks": false, "domain": false, "grid": true, "gridColor": "#bcbcd0", "title": null}},
       "y": {"field": "k1", "type": "quantitative", "scale": {"domain": [-4, 104], "nice": false, "zero": false},
             "axis": {"orient": "right", "zindex": 0, "values": [20, 50, 80], "labelFontSize": 7, "labelColor": "#1a1a1a", "tickSize": 3, "tickColor": "#444444", "labelPadding": 1, "domain": false, "grid": false, "title": null}}}},
    {"data": {"values": [{"v": 65.38, "s": "k"}, {"v": 81.95, "s": "r"}]},
     "mark": {"type": "point", "shape": "M-1,-0.42L1,-0.42L1,0.42L-1,0.42Z", "size": 400, "filled": true, "fill": "#ffffff", "strokeWidth": 1, "opacity": 1},
     "encoding": {"x": {"datum": {"year": 2011, "month": 12, "date": 14}, "type": "temporal", "scale": {"domain": [{"year": 2010, "month": 6, "date": 21}, {"year": 2011, "month": 12, "date": 2}]}, "axis": null},
       "y": {"field": "v", "type": "quantitative", "scale": {"domain": [-4, 104], "nice": false, "zero": false}, "axis": null},
       "stroke": {"condition": {"test": "datum.s == 'r'", "value": "#ff1f1f"}, "value": "#000000"}}},
    {"data": {"values": [{"v": 65.38, "s": "k"}, {"v": 81.95, "s": "r"}]},
     "mark": {"type": "text", "fontSize": 6.5, "align": "center", "baseline": "middle"},
     "encoding": {"x": {"datum": {"year": 2011, "month": 12, "date": 14}, "type": "temporal", "scale": {"domain": [{"year": 2010, "month": 6, "date": 21}, {"year": 2011, "month": 12, "date": 2}]}, "axis": null},
       "y": {"field": "v", "type": "quantitative", "scale": {"domain": [-4, 104], "nice": false, "zero": false}, "axis": null},
       "text": {"field": "v", "type": "quantitative", "format": ".2f"},
       "color": {"condition": {"test": "datum.s == 'r'", "value": "#ff1f1f"}, "value": "#000000"}}}
  ]
},
{
  "width": 637, "height": 96,
  "data": {"name": "w"},
  "resolve": {"axis": {"x": "independent", "y": "independent"}},
  "layer": [
    {"data": {"values": [{"s": "Full STO %K(34,13) %D(21) 84.04,"}, {"s": "83.23"}]},
     "mark": {"type": "point", "opacity": 0},
     "encoding": {"color": {"field": "s", "type": "nominal", "scale": {"domain": ["Full STO %K(34,13) %D(21) 84.04,", "83.23"], "range": ["#1a2a6c", "#ff5c6c"]},
       "legend": {"orient": "top-left", "direction": "horizontal", "offset": 1, "title": null, "padding": 1, "columnPadding": 2, "labelFontSize": 6.5, "labelOffset": 3, "labelLimit": 300, "symbolType": "stroke", "symbolStrokeWidth": 2, "symbolSize": 20, "symbolOpacity": 1, "labelColor": {"expr": "datum.index == 0 ? '#000000' : '#ff2a3a'"}}}}},
    {"mark": {"type": "line", "color": "#ff5c6c", "strokeWidth": 1, "interpolate": "monotone", "clip": true},
     "encoding": {
       "x": {"field": "d", "type": "temporal", "scale": {"domain": [{"year": 2010, "month": 6, "date": 21}, {"year": 2011, "month": 12, "date": 2}]},
             "axis": {"orient": "top", "tickCount": {"interval": "week", "step": 1}, "labels": false, "ticks": false, "domain": false, "grid": true, "gridColor": "#e0e0ec", "title": null}},
       "y": {"field": "d2", "type": "quantitative", "scale": {"domain": [-4, 104], "nice": false, "zero": false},
             "axis": {"orient": "left", "values": [0,10,20,30,40,50,60,70,80,90,100], "labels": false, "ticks": false, "domain": false, "grid": true, "gridColor": "#e0e0ec", "title": null}}}},
    {"data": {"values": [{}]}, "mark": {"type": "rule", "color": "#8c8c8c", "strokeWidth": 2},
     "encoding": {"y": {"datum": 80, "type": "quantitative", "scale": {"domain": [-4, 104], "nice": false, "zero": false}, "axis": null}}},
    {"data": {"values": [{}]}, "mark": {"type": "rule", "color": "#555555", "strokeWidth": 1},
     "encoding": {"y": {"datum": 20, "type": "quantitative", "scale": {"domain": [-4, 104], "nice": false, "zero": false}, "axis": null}}},
    {"data": {"values": [{}]}, "mark": {"type": "rule", "color": "#555555", "strokeWidth": 1, "strokeDash": [6, 2, 1, 2]},
     "encoding": {"y": {"datum": 50, "type": "quantitative", "scale": {"domain": [-4, 104], "nice": false, "zero": false}, "axis": null}}},
    {"mark": {"type": "line", "color": "#1a2a6c", "strokeWidth": 1.6, "interpolate": "monotone", "clip": true},
     "encoding": {
       "x": {"field": "d", "type": "temporal", "scale": {"domain": [{"year": 2010, "month": 6, "date": 21}, {"year": 2011, "month": 12, "date": 2}]},
             "axis": {"orient": "bottom", "tickCount": {"interval": "month", "step": 1}, "labels": false, "ticks": false, "domain": false, "grid": true, "gridColor": "#bcbcd0", "title": null}},
       "y": {"field": "k2", "type": "quantitative", "scale": {"domain": [-4, 104], "nice": false, "zero": false},
             "axis": {"orient": "right", "zindex": 0, "values": [20, 50, 80], "labelFontSize": 7, "labelColor": "#1a1a1a", "tickSize": 3, "tickColor": "#444444", "labelPadding": 1, "domain": false, "grid": false, "title": null}}}},
    {"data": {"values": [{"v": 83.23, "s": "r"}, {"v": 84.04, "s": "k"}]},
     "mark": {"type": "point", "shape": "M-1,-0.42L1,-0.42L1,0.42L-1,0.42Z", "size": 400, "filled": true, "fill": "#ffffff", "strokeWidth": 1, "opacity": 1},
     "encoding": {"x": {"datum": {"year": 2011, "month": 12, "date": 14}, "type": "temporal", "scale": {"domain": [{"year": 2010, "month": 6, "date": 21}, {"year": 2011, "month": 12, "date": 2}]}, "axis": null},
       "y": {"field": "v", "type": "quantitative", "scale": {"domain": [-4, 104], "nice": false, "zero": false}, "axis": null},
       "stroke": {"condition": {"test": "datum.s == 'r'", "value": "#ff1f1f"}, "value": "#000000"}}},
    {"data": {"values": [{"v": 84.04, "s": "k"}]},
     "mark": {"type": "text", "fontSize": 6.5, "align": "center", "baseline": "middle"},
     "encoding": {"x": {"datum": {"year": 2011, "month": 12, "date": 14}, "type": "temporal", "scale": {"domain": [{"year": 2010, "month": 6, "date": 21}, {"year": 2011, "month": 12, "date": 2}]}, "axis": null},
       "y": {"field": "v", "type": "quantitative", "scale": {"domain": [-4, 104], "nice": false, "zero": false}, "axis": null},
       "text": {"field": "v", "type": "quantitative", "format": ".2f"},
       "color": {"value": "#000000"}}}
  ]
},
{
  "width": 637, "height": 96,
  "data": {"name": "w"},
  "resolve": {"axis": {"x": "independent", "y": "independent"}},
  "layer": [
    {"data": {"values": [{"s": "Full STO %K(55,21) %D(34) 85.58,"}, {"s": "77.54"}]},
     "mark": {"type": "point", "opacity": 0},
     "encoding": {"color": {"field": "s", "type": "nominal", "scale": {"domain": ["Full STO %K(55,21) %D(34) 85.58,", "77.54"], "range": ["#1a2a6c", "#ff5c6c"]},
       "legend": {"orient": "top-left", "direction": "horizontal", "offset": 1, "title": null, "padding": 1, "columnPadding": 2, "labelFontSize": 6.5, "labelOffset": 3, "labelLimit": 300, "symbolType": "stroke", "symbolStrokeWidth": 2, "symbolSize": 20, "symbolOpacity": 1, "labelColor": {"expr": "datum.index == 0 ? '#000000' : '#ff2a3a'"}}}}},
    {"transform": [{"filter": "isValid(datum.d3)"}],
     "mark": {"type": "line", "color": "#ff5c6c", "strokeWidth": 1, "interpolate": "monotone", "clip": true},
     "encoding": {
       "x": {"field": "d", "type": "temporal", "scale": {"domain": [{"year": 2010, "month": 6, "date": 21}, {"year": 2011, "month": 12, "date": 2}]},
             "axis": {"orient": "top", "tickCount": {"interval": "week", "step": 1}, "labels": false, "ticks": false, "domain": false, "grid": true, "gridColor": "#e0e0ec", "title": null}},
       "y": {"field": "d3", "type": "quantitative", "scale": {"domain": [-4, 104], "nice": false, "zero": false},
             "axis": {"orient": "left", "values": [0,10,20,30,40,50,60,70,80,90,100], "labels": false, "ticks": false, "domain": false, "grid": true, "gridColor": "#e0e0ec", "title": null}}}},
    {"data": {"values": [{}]}, "mark": {"type": "rule", "color": "#8c8c8c", "strokeWidth": 2},
     "encoding": {"y": {"datum": 80, "type": "quantitative", "scale": {"domain": [-4, 104], "nice": false, "zero": false}, "axis": null}}},
    {"data": {"values": [{}]}, "mark": {"type": "rule", "color": "#555555", "strokeWidth": 1},
     "encoding": {"y": {"datum": 20, "type": "quantitative", "scale": {"domain": [-4, 104], "nice": false, "zero": false}, "axis": null}}},
    {"data": {"values": [{}]}, "mark": {"type": "rule", "color": "#555555", "strokeWidth": 1, "strokeDash": [6, 2, 1, 2]},
     "encoding": {"y": {"datum": 50, "type": "quantitative", "scale": {"domain": [-4, 104], "nice": false, "zero": false}, "axis": null}}},
    {"mark": {"type": "line", "color": "#1a2a6c", "strokeWidth": 1.6, "interpolate": "monotone", "clip": true},
     "encoding": {
       "x": {"field": "d", "type": "temporal", "scale": {"domain": [{"year": 2010, "month": 6, "date": 21}, {"year": 2011, "month": 12, "date": 2}]},
             "axis": {"orient": "bottom", "tickCount": {"interval": "month", "step": 1}, "labelExpr": "month(datum.value) == 0 ? timeFormat(datum.value, '%Y') : (month(datum.value) == 11 && year(datum.value) == 2011 ? '' : timeFormat(datum.value, '%b'))", "labelFontWeight": {"condition": {"test": "month(datum.value) == 0", "value": "bold"}, "value": "normal"}, "labelFontSize": 7, "labelColor": "#1a1a1a", "labelPadding": 0, "labelFlush": false, "labelOverlap": false, "ticks": false, "domain": false, "grid": true, "gridColor": "#bcbcd0", "title": null}},
       "y": {"field": "k3", "type": "quantitative", "scale": {"domain": [-4, 104], "nice": false, "zero": false},
             "axis": {"orient": "right", "zindex": 0, "values": [20, 50, 80], "labelFontSize": 7, "labelColor": "#1a1a1a", "tickSize": 3, "tickColor": "#444444", "labelPadding": 1, "domain": false, "grid": false, "title": null}}}},
    {"data": {"values": [{"v": 85.58, "s": "k"}, {"v": 77.54, "s": "r"}]},
     "mark": {"type": "point", "shape": "M-1,-0.42L1,-0.42L1,0.42L-1,0.42Z", "size": 400, "filled": true, "fill": "#ffffff", "strokeWidth": 1, "opacity": 1},
     "encoding": {"x": {"datum": {"year": 2011, "month": 12, "date": 14}, "type": "temporal", "scale": {"domain": [{"year": 2010, "month": 6, "date": 21}, {"year": 2011, "month": 12, "date": 2}]}, "axis": null},
       "y": {"field": "v", "type": "quantitative", "scale": {"domain": [-4, 104], "nice": false, "zero": false}, "axis": null},
       "stroke": {"condition": {"test": "datum.s == 'r'", "value": "#ff1f1f"}, "value": "#000000"}}},
    {"data": {"values": [{"v": 85.58, "s": "k"}, {"v": 77.54, "s": "r"}]},
     "mark": {"type": "text", "fontSize": 6.5, "align": "center", "baseline": "middle"},
     "encoding": {"x": {"datum": {"year": 2011, "month": 12, "date": 14}, "type": "temporal", "scale": {"domain": [{"year": 2010, "month": 6, "date": 21}, {"year": 2011, "month": 12, "date": 2}]}, "axis": null},
       "y": {"field": "v", "type": "quantitative", "scale": {"domain": [-4, 104], "nice": false, "zero": false}, "axis": null},
       "text": {"field": "v", "type": "quantitative", "format": ".2f"},
       "color": {"condition": {"test": "datum.s == 'r'", "value": "#ff1f1f"}, "value": "#000000"}}}
  ]
}
]
}
